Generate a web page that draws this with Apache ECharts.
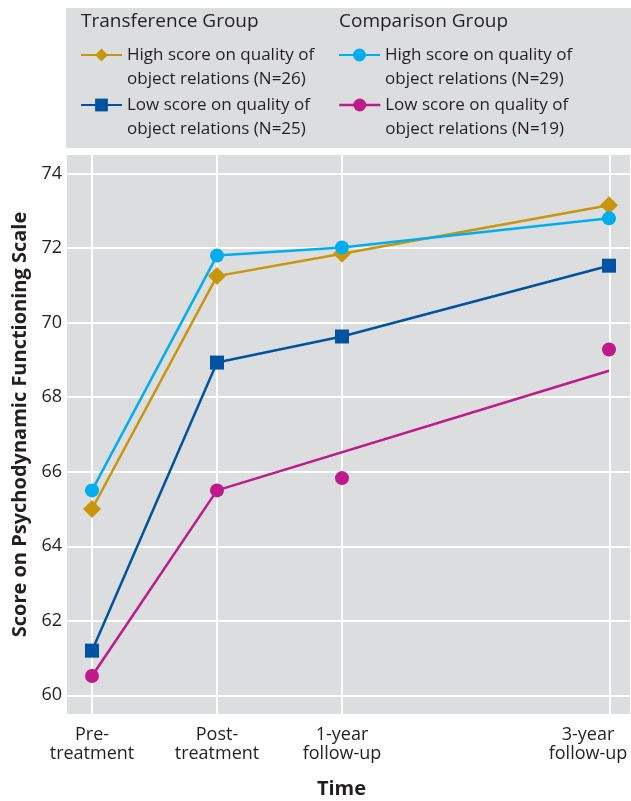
<!DOCTYPE html>
<html><head><meta charset="utf-8">
<script src="https://cdn.jsdelivr.net/npm/echarts@6/dist/echarts.min.js"></script>
<style>html,body{margin:0;padding:0;background:#fff}#c{width:631px;height:801px}</style>
</head><body><div id="c"></div>
<script>
// ---- data ----
const timeLabels = ['Pre-\ntreatment', 'Post-\ntreatment', '1-year\nfollow-up', '3-year\nfollow-up'];
const timePositions = [0, 1, 2, 4.136];
const yTicks = [60, 62, 64, 66, 68, 70, 72, 74];
const transHigh = [65.0, 71.25, 71.85, 73.15];
const transLow = [61.2, 68.93, 69.63, 71.53];
const compHigh = [65.5, 71.8, 72.02, 72.8];
const compLow = [60.52, 65.5, 65.83, 69.28];
const compLowFitX = [0, 1, 4.136];
const compLowFit = [60.52, 65.5, 68.71];

const FONT = 'Open Sans';
const TXT = '#231f20';
const BG = '#dcdddf';
const C = { gold: '#c8960c', cyan: '#00aeef', blue: '#0053a0', mag: '#be1a8c' };

const pairs = (xs, ys) => xs.map((x, i) => [x, ys[i]]);

function leg(name, left, top, text, extra) {
  return Object.assign({
    data: [name], left: left, top: top, orient: 'vertical', padding: 0,
    itemWidth: 41, itemHeight: 16, selectedMode: false,
    formatter: () => '\n' + text,
    textStyle: { fontFamily: FONT, fontSize: 17, color: TXT, lineHeight: 24 }
  }, extra || {});
}

function xLabel(v) {
  const i = timePositions.findIndex(p => Math.abs(p - v) < 1e-6);
  if (i < 0) return '';
  const lines = timeLabels[i].split('\n');
  const style = i === timePositions.length - 1 ? 'r' : 'n';
  return lines.map(l => '{' + style + '|' + l + '}').join('\n');
}

const chart = echarts.init(document.getElementById('c'), null, { renderer: 'canvas' });
chart.setOption({
  animation: false,
  graphic: [
    { type: 'rect', left: 66, top: 8, z: -10, shape: { width: 565, height: 140 }, style: { fill: BG } },
    { type: 'text', left: 81, top: 12, style: { text: 'Transference Group', fontFamily: FONT, fontSize: 19, fill: TXT } },
    { type: 'text', left: 339, top: 12, style: { text: 'Comparison Group', fontFamily: FONT, fontSize: 19, fill: TXT } }
  ],
  legend: [
    leg('Transference High', 80, 19, 'High score on quality of\nobject relations (N=26)'),
    leg('Transference Low', 80, 69, 'Low score on quality of\nobject relations (N=25)'),
    leg('Comparison High', 338, 19, 'High score on quality of\nobject relations (N=29)'),
    leg('Comparison Low', 338, 69, 'Low score on quality of\nobject relations (N=19)', { lineStyle: { width: 2.5, opacity: 1, color: C.mag } })
  ],
  grid: { left: 67, right: 1, top: 155, bottom: 87, show: true, backgroundColor: BG, borderWidth: 0, containLabel: false, outerBoundsMode: 'none' },
  xAxis: {
    type: 'value', min: -0.2, max: 4.304,
    name: 'Time', nameLocation: 'middle', nameGap: 65,
    nameTextStyle: { fontFamily: FONT, fontSize: 20, fontWeight: 'bold', color: TXT, padding: [0, 14, 0, 0] },
    axisLine: { show: false }, axisTick: { show: false }, splitLine: { show: false },
    axisLabel: {
      customValues: timePositions, margin: 11, formatter: xLabel,
      fontFamily: FONT, fontSize: 18, color: TXT, lineHeight: 19,
      rich: {
        n: { fontFamily: FONT, fontSize: 18, color: TXT, lineHeight: 19 },
        r: { fontFamily: FONT, fontSize: 18, color: TXT, lineHeight: 19, padding: [0, 42, 0, 0] }
      }
    }
  },
  yAxis: {
    type: 'value', min: 59.5, max: 74.5,
    name: 'Score on Psychodynamic Functioning Scale', nameLocation: 'middle', nameGap: 36,
    nameTextStyle: { fontFamily: FONT, fontSize: 20, fontWeight: 'bold', color: TXT, padding: [0, 0, 0, 20] },
    axisLine: { show: false }, axisTick: { show: false }, splitLine: { show: false },
    axisLabel: { customValues: yTicks, margin: 5, fontFamily: FONT, fontSize: 18, color: TXT }
  },
  series: [
    {
      type: 'line', name: 'grid', data: [], z: 1, silent: true,
      markLine: {
        z: 1, silent: true, symbol: ['none', 'none'], label: { show: false },
        lineStyle: { color: '#ffffff', width: 2, type: 'solid' },
        emphasis: { disabled: true },
        data: timePositions.map(x => ({ xAxis: x })).concat(yTicks.map(y => ({ yAxis: y })))
      }
    },
    {
      type: 'line', name: 'Comparison Low Fit', data: pairs(compLowFitX, compLowFit), z: 10,
      symbol: 'none', lineStyle: { color: C.mag, width: 2.5 }, itemStyle: { color: C.mag }
    },
    {
      type: 'line', name: 'Comparison Low', data: pairs(timePositions, compLow), z: 11,
      symbol: 'circle', symbolSize: 14, lineStyle: { width: 0, opacity: 0, color: C.mag }, itemStyle: { color: C.mag }
    },
    {
      type: 'line', name: 'Transference Low', data: pairs(timePositions, transLow), z: 11,
      symbol: 'rect', symbolSize: 14, lineStyle: { color: C.blue, width: 2.5 }, itemStyle: { color: C.blue }
    },
    {
      type: 'line', name: 'Transference High', data: pairs(timePositions, transHigh), z: 11,
      symbol: 'diamond', symbolSize: 18, lineStyle: { color: C.gold, width: 2.5 }, itemStyle: { color: C.gold }
    },
    {
      type: 'line', name: 'Comparison High', data: pairs(timePositions, compHigh), z: 12,
      symbol: 'circle', symbolSize: 14, lineStyle: { color: C.cyan, width: 2.5 }, itemStyle: { color: C.cyan }
    }
  ]
});
</script></body></html>
